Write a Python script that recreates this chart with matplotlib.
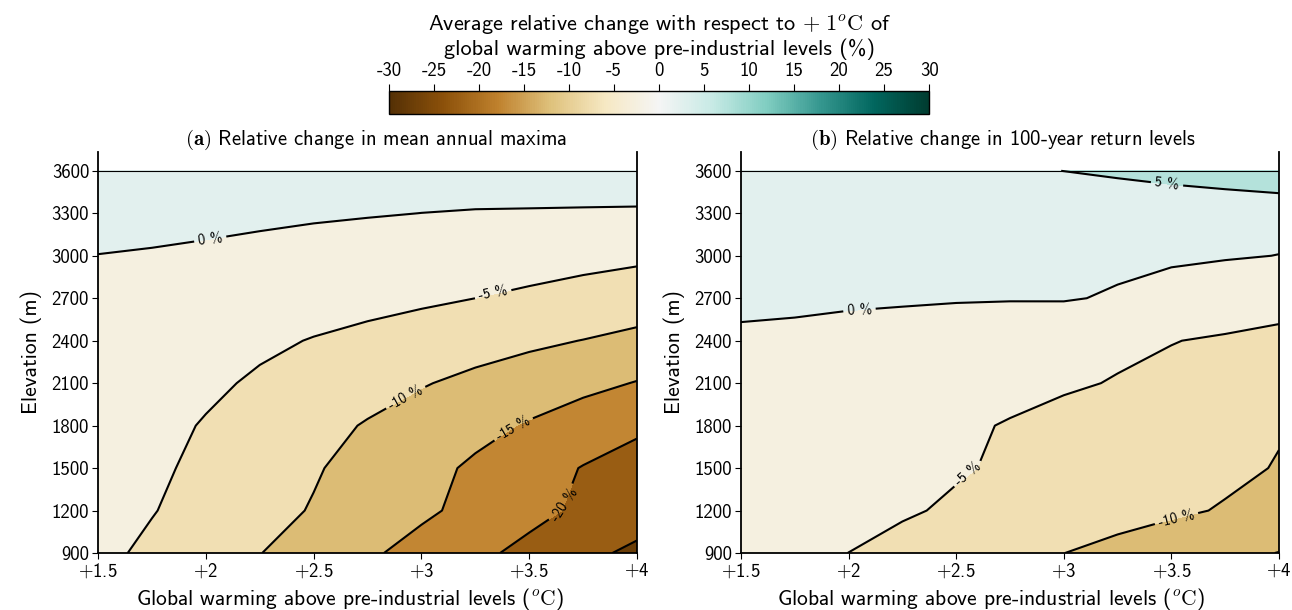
# Relative change in mean annual maxima and 100-year return levels
# against global warming level and elevation (contour maps)

import numpy as np
import matplotlib.pyplot as plt
from matplotlib import colors, cm

plt.rcParams['font.family'] = ['cmss10', 'DejaVu Sans']
plt.rcParams['mathtext.fontset'] = 'cm'
plt.rcParams['axes.unicode_minus'] = False

# Data: rows = elevation, columns = warming level ##########################
warming = [1.5, 1.75, 2.0, 2.25, 2.5, 2.75, 3.0, 3.25, 3.5, 3.75, 4.0]
elevation = [900, 1200, 1500, 1800, 2100, 2400, 2700, 3000, 3300, 3600]

# (a) relative change in mean annual maxima (%)
change_maxima = [
    [-3.9, -5.9, -7.9, -9.9, -12.1, -14.3, -16.6, -18.9, -21.3, -23.7, -26.1],
    [-3.0, -4.8, -6.7, -8.5, -10.3, -12.3, -14.2, -16.3, -18.6, -20.9, -22.4],
    [-2.4, -4.2, -6.0, -7.8, -9.6, -11.6, -13.6, -15.7, -18.0, -20.2, -22.3],
    [-2.0, -3.7, -5.3, -7.0, -8.7, -10.3, -12.0, -13.7, -15.4, -17.3, -19.0],
    [-1.5, -2.9, -4.2, -5.6, -7.0, -8.4, -9.7, -11.1, -12.5, -13.8, -15.2],
    [-1.2, -2.2, -3.2, -4.2, -5.2, -6.1, -7.1, -8.1, -9.1, -10.1, -11.5],
    [-0.6, -1.2, -1.8, -2.5, -3.1, -3.7, -4.3, -5.0, -5.6, -6.2, -6.8],
    [-0.05, -0.3, -0.6, -1.1, -1.6, -2.1, -2.6, -3.1, -3.5, -4.0, -4.4],
    [1.3, 1.3, 1.0, 0.8, 0.5, 0.25, -0.02, -0.2, -0.25, -0.3, -0.35],
    [2.0, 2.0, 2.0, 2.0, 2.0, 2.0, 2.0, 1.9, 1.9, 1.85, 1.85],
]

# (b) relative change in 100-year return levels (%)
change_return = [
    [-2.5, -3.76, -5.02, -6.24, -7.49, -8.73, -9.97, -11.25, -12.53, -13.82, -15.1],
    [-2.0, -2.8, -3.6, -4.57, -5.52, -6.48, -7.43, -8.39, -9.33, -10.3, -11.3],
    [-1.6, -2.37, -3.13, -3.9, -4.66, -5.52, -6.44, -7.36, -8.28, -9.2, -10.2],
    [-1.2, -2.0, -2.8, -3.6, -4.41, -5.23, -6.13, -7.03, -7.93, -8.83, -9.73],
    [-0.8, -1.43, -2.05, -2.68, -3.3, -3.93, -4.55, -5.2, -5.9, -6.6, -7.3],
    [-0.35, -0.92, -1.49, -2.05, -2.62, -3.18, -3.75, -4.32, -4.89, -5.45, -5.9],
    [0.45, 0.77, 0.62, 0.51, 0.33, 0.25, 0.3, -0.4, -1.6, -2.6, -3.6],
    [1.0, 1.3, 1.3, 1.3, 1.2, 1.1, 1.0, 0.85, 0.6, 0.3, -0.05],
    [1.8, 1.9, 2.0, 2.1, 2.2, 2.3, 2.4, 2.2, 2.0, 1.7, 1.3],
    [3.0, 3.2, 3.5, 3.8, 4.2, 4.6, 5.02, 5.59, 6.43, 7.52, 9.12],
]

levels = [-30, -25, -20, -15, -10, -5, 0, 5, 10, 15, 20, 25, 30]
xticks = [1.5, 2, 2.5, 3, 3.5, 4]
xtick_labels = ['$+$1.5', '$+$2', '$+$2.5', '$+$3', '$+$3.5', '$+$4']
yticks = [900, 1200, 1500, 1800, 2100, 2400, 2700, 3000, 3300, 3600]

# where the inline contour labels sit
labels_a = [(2.02, 3120), (3.33, 2745), (2.92, 2017), (3.43, 1770), (3.72, 1210)]
labels_b = [(2.05, 2632), (3.48, 3508), (2.56, 1451), (3.52, 1168)]

norm = colors.Normalize(vmin=-30, vmax=30)

# Create figure and axes
fig = plt.figure(figsize=(12.92, 6.10), dpi=100)
ax_a = fig.add_axes([0.0759, 0.0934, 0.4172, 0.6579])
ax_b = fig.add_axes([0.5735, 0.0934, 0.4164, 0.6579])
cax = fig.add_axes([0.3011, 0.8131, 0.4180, 0.0377])


def draw_panel(ax, z, title, label_pos, title_x, xlabel_x):
    ax.contourf(warming, elevation, z, levels=levels, cmap='BrBG', norm=norm)
    cs = ax.contour(warming, elevation, z, levels=levels, colors='k',
                    linewidths=1.5, linestyles='solid')
    ax.axhline(3600, color='k', lw=0.8)
    ax.set_xlim(1.5, 4)
    ax.set_ylim(900, 3735)
    ax.clabel(cs, fmt='%d %%', fontsize=10.5, manual=label_pos, inline_spacing=4)

    ax.set_xticks(xticks)
    ax.set_xticklabels(xtick_labels)
    ax.set_yticks(yticks)
    ax.tick_params(axis='both', labelsize=13.5, direction='out', length=4, pad=2.5)
    ax.spines['top'].set_visible(False)
    for side in ['left', 'right', 'bottom']:
        ax.spines[side].set_linewidth(1.3)
    ax.set_xlabel(r'Global warming above pre-industrial levels ($^o\mathrm{C}$)',
                  fontsize=15.5)
    ax.xaxis.set_label_coords(xlabel_x, -0.083)
    ax.set_ylabel('Elevation (m)', fontsize=15.5, labelpad=7)
    ax.set_title(title, fontsize=14.9, pad=5, x=title_x)


draw_panel(ax_a, change_maxima,
           r'$\mathbf{(a)}$ Relative change in mean annual maxima', labels_a,
           0.516, 0.468)
draw_panel(ax_b, change_return,
           r'$\mathbf{(b)}$ Relative change in 100-year return levels', labels_b,
           0.487, 0.465)

# Continuous colourbar on top
sm = cm.ScalarMappable(norm=norm, cmap='BrBG')
cb = fig.colorbar(sm, cax=cax, orientation='horizontal')
cb.set_ticks(levels)
cb.set_ticklabels([str(v) for v in levels])
cax.xaxis.set_ticks_position('top')
cax.xaxis.set_label_position('top')
cax.tick_params(labelsize=13.5, length=5, pad=3)
cb.outline.set_linewidth(1.0)
cb.set_label('Average relative change with respect to $+\\ 1^o\\mathrm{C}$ of\n'
             'global warming above pre-industrial levels (%)',
             fontsize=16, labelpad=5, linespacing=1.1)

plt.savefig('out.png', dpi=100)
